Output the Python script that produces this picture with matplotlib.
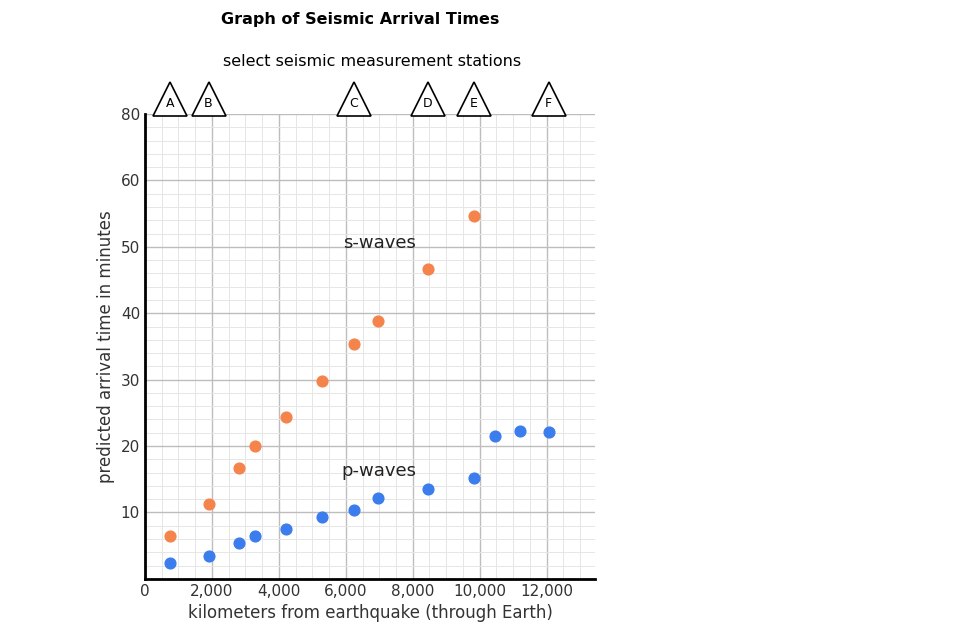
import matplotlib.pyplot as plt
from matplotlib.ticker import MultipleLocator

# station distances (km) and arrival times (min)
s_km = [750, 1900, 2800, 3300, 4200, 5300, 6240, 6950, 8450, 9820]
s_min = [6.5, 11.3, 16.7, 20.0, 24.4, 29.8, 35.3, 38.9, 46.6, 54.7]
p_km = [750, 1900, 2800, 3300, 4200, 5300, 6240, 6950, 8450, 9820, 10450, 11200, 12060]
p_min = [2.4, 3.5, 5.4, 6.5, 7.5, 9.3, 10.4, 12.2, 13.5, 15.2, 21.5, 22.3, 22.1]
stations = ['A', 'B', 'C', 'D', 'E', 'F']
station_km = [750, 1900, 6240, 8450, 9820, 12060]
yticks = [10, 20, 30, 40, 50, 60, 70]
ylabels = ['10', '20', '30', '40', '50', '60', '80']
xticks = [0, 2000, 4000, 6000, 8000, 10000, 12000]

fig = plt.figure(figsize=(9.79, 6.41), dpi=100)
ax = fig.add_axes([0.148, 0.097, 0.46, 0.725])
ax.set_xlim(0, 13450)
ax.set_ylim(0, 70)
ax.xaxis.set_minor_locator(MultipleLocator(500))
ax.yaxis.set_minor_locator(MultipleLocator(2))
ax.grid(which='minor', color='#e6e6e6', lw=0.7)
ax.grid(which='major', color='#bdbdbd', lw=1)
ax.set_axisbelow(True)
ax.set_xticks(xticks)
ax.set_xticklabels(['0'] + ['{:,}'.format(v) for v in xticks[1:]], color='#333333')
ax.set_yticks(yticks)
ax.set_yticklabels(ylabels, color='#333333')
ax.tick_params(which='both', length=0, labelsize=11)
for side in ['top', 'right']:
    ax.spines[side].set_visible(False)
for side in ['left', 'bottom']:
    ax.spines[side].set_linewidth(2)

ax.scatter(s_km, s_min, color='#f4844c', s=60, zorder=3, clip_on=False)
ax.scatter(p_km, p_min, color='#3b7ded', s=60, zorder=3, clip_on=False)
ax.text(7000, 49.8, 's-waves', fontsize=13, ha='center', color='#222222')
ax.text(7000, 15.5, 'p-waves', fontsize=13, ha='center', color='#222222')

ax.set_xlabel('kilometers from earthquake (through Earth)', fontsize=12, color='#333333')
ax.set_ylabel('predicted arrival time in minutes', fontsize=12, color='#333333')

# station triangles
for name, km in zip(stations, station_km):
    ax.plot(km, 72.3, marker='^', ms=24, mfc='white', mec='black', mew=1.2, clip_on=False)
    ax.text(km, 71.6, name, ha='center', va='center', fontsize=9)
ax.text(0.5 * 13450 * 1.01, 77.2, 'select seismic measurement stations', ha='center', fontsize=11.5)
fig.text(0.368, 0.97, 'Graph of Seismic Arrival Times', ha='center', va='center',
         fontsize=11.5, fontweight='bold')

fig.savefig('out.png')
